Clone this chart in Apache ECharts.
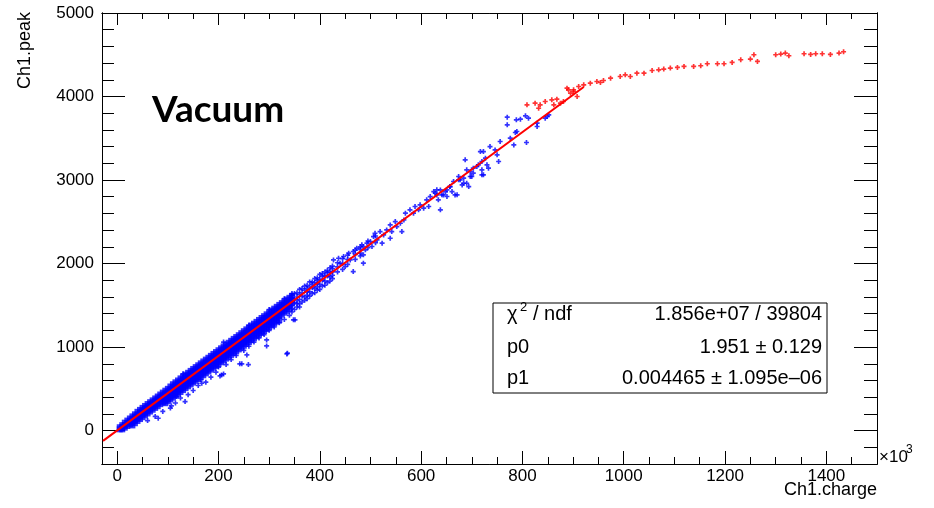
<!DOCTYPE html>
<html>
<head>
<meta charset="utf-8">
<script src="https://cdn.jsdelivr.net/npm/echarts@6/dist/echarts.min.js"></script>
<style>
html,body{margin:0;padding:0;background:#fff;}
#chart{width:934px;height:508px;}
</style>
</head>
<body>
<div id="chart"></div>
<script>
// ---- axis ticks / labels ----
var xMajorTicks = [0, 200, 400, 600, 800, 1000, 1200, 1400];
var xMinorTicks = [0,50,100,150,200,250,300,350,400,450,500,550,600,650,700,750,800,850,900,950,1000,1050,1100,1150,1200,1250,1300,1350,1400,1450,1500];
var yMajorTicks = [0, 1000, 2000, 3000, 4000, 5000];

// ---- fit line ----
var fitLine = [[-28, -123], [921, 4114]];

// ---- dense core of the blue band ----
var blueDense = [
[5,40],[5,15],
[10,65],[10,40],[10,15],
[15,95],[15,65],[15,35],
[20,120],[20,88],[20,55],
[25,145],[25,110],[25,75],
[30,170],[30,133],[30,95],[30,62],
[35,195],[35,160],[35,122],[35,88],
[40,225],[40,190],[40,152],[40,115],
[45,248],[45,212],[45,175],[45,138],
[50,272],[50,235],[50,198],[50,160],
[55,295],[55,258],[55,220],[55,182],
[60,318],[60,280],[60,242],[60,205],
[65,340],[65,302],[65,265],[65,228],
[70,362],[70,325],[70,288],[70,250],
[75,385],[75,348],[75,310],[75,272],
[80,408],[80,370],[80,332],[80,292],
[85,432],[85,392],[85,355],[85,316],
[90,455],[90,415],[90,378],[90,338],
[95,478],[95,438],[95,400],[95,360],[95,328],
[100,500],[100,462],[100,422],[100,382],[100,350],
[105,528],[105,488],[105,448],[105,408],[105,372],
[110,555],[110,515],[110,475],[110,435],[110,395],
[115,578],[115,538],[115,498],[115,458],[115,418],
[120,600],[120,560],[120,520],[120,480],[120,440],
[125,625],[125,582],[125,542],[125,502],[125,462],
[130,648],[130,605],[130,565],[130,525],[130,485],
[135,670],[135,628],[135,588],[135,548],[135,508],
[140,692],[140,652],[140,612],[140,572],[140,530],
[145,715],[145,674],[145,634],[145,594],[145,552],
[150,738],[150,696],[150,656],[150,615],[150,575],
[155,760],[155,720],[155,678],[155,638],[155,596],
[160,782],[160,742],[160,700],[160,660],[160,618],
[165,805],[165,764],[165,722],[165,682],[165,640],
[170,828],[170,786],[170,745],[170,705],[170,662],
[175,850],[175,808],[175,768],[175,726],[175,685],
[180,872],[180,830],[180,790],[180,748],[180,708],
[185,895],[185,852],[185,812],[185,770],[185,730],
[190,918],[190,876],[190,835],[190,792],[190,752],
[195,940],[195,898],[195,856],[195,815],[195,774],
[200,962],[200,920],[200,878],[200,838],[200,795],
[205,985],[205,943],[205,901],[205,860],[205,818],
[210,1008],[210,966],[210,924],[210,882],[210,840],
[215,1030],[215,988],[215,946],[215,904],[215,862],
[220,1052],[220,1010],[220,968],[220,925],[220,884],
[225,1075],[225,1033],[225,991],[225,948],[225,906],
[230,1098],[230,1056],[230,1014],[230,970],[230,928],
[235,1120],[235,1078],[235,1036],[235,992],[235,950],
[240,1142],[240,1100],[240,1058],[240,1015],[240,972],
[245,1166],[245,1123],[245,1081],[245,1038],[245,994],
[250,1190],[250,1146],[250,1104],[250,1060],[250,1016],
[255,1212],[255,1168],[255,1126],[255,1082],[255,1038],
[260,1235],[260,1190],[260,1148],[260,1105],[260,1060],
[265,1258],[265,1213],[265,1170],[265,1128],[265,1082],
[270,1280],[270,1236],[270,1192],[270,1150],[270,1105],
[275,1302],[275,1258],[275,1215],[275,1172],[275,1128],
[280,1325],[280,1280],[280,1238],[280,1195],[280,1150],
[285,1348],[285,1303],[285,1260],[285,1216],[285,1170],
[290,1370],[290,1326],[290,1282],[290,1238],[290,1192],
[295,1392],[295,1348],[295,1304],[295,1260],[295,1215],
[300,1415],[300,1370],[300,1326],[300,1282],[300,1238],
[305,1438],[305,1393],[305,1349],[305,1305],[305,1260],
[310,1460],[310,1415],[310,1372],[310,1328],[310,1282],
[315,1482],[315,1438],[315,1394],[315,1349],[315,1304],
[320,1505],[320,1460],[320,1415],[320,1370],[320,1325],
[325,1526],[325,1481],[325,1436],[325,1390],
[330,1548],[330,1502],[330,1458],[330,1412],
[335,1570],[335,1524],[335,1480],[335,1434],
[340,1590],[340,1545],[340,1500],[340,1455],
[345,1612],[345,1566],[345,1522]
];

// ---- individual blue points ----
var blueSparse = [
// tail below / above the dense band
[60,120],[75,170],[81,148],[90,230],[105,270],[107,296],[115,330],[117,407],[125,390],[134,347],[140,430],
[150,480],[160,540],[165,610],[167,567],[175,580],[185,640],[195,700],[200,760],[203,655],[206,667],[210,679],
[215,790],[225,850],[235,900],[242,799],[246,799],[250,960],[256,906],[259,790],[260,1010],[270,1060],
[280,1110],[290,1150],[295,1086],[295,1014],[300,1200],[310,1240],[320,1290],[330,1330],[335,918],
[336,927],[340,1380],[348,1326],[351,1326],
[130,680],[210,1060],[260,1260],[300,1450],[330,1580],[345,1640],
// 345 - 520
[345,1620],[345,1580],[345,1500],[345,1460],[345,1420],
[350,1640],[350,1530],[350,1450],
[355,1650],[355,1560],[355,1480],[355,1600],[355,1520],
[360,1690],[360,1630],[360,1570],[360,1520],[360,1480],
[365,1700],[365,1610],[365,1540],[365,1650],
[370,1730],[370,1680],[370,1600],[370,1560],
[375,1740],[375,1660],[375,1580],[375,1700],[375,1620],
[380,1780],[380,1720],[380,1660],[380,1610],
[385,1780],[385,1710],[385,1640],[385,1750],
[390,1820],[390,1770],[390,1700],[390,1650],
[395,1830],[395,1760],[395,1680],[395,1800],[395,1720],
[400,1870],[400,1810],[400,1750],[400,1690],
[405,1880],[405,1800],[405,1730],[405,1850],
[410,1900],[410,1850],[410,1790],[410,1740],
[415,1920],[415,1850],[415,1770],[415,1890],
[420,1950],[420,1900],[420,1840],[420,1790],
[425,1970],[425,1900],[425,1820],[425,1940],[425,1860],
[435,2010],[435,1960],[435,1900],[445,2060],[445,2000],[445,1930],
[455,2100],[455,2050],[455,1990],[470,2160],[470,2110],[470,2050],
[480,2200],[480,2170],[480,2090],[495,2270],[495,2190],[510,2330],[510,2250],
// 430 - 740
[427,2044],[437,2064],[447,2084],[457,2124],[440,2004],[460,2044],[450,1964],[466,2144],[466,1904],
[473,2184],[483,2224],[480,2124],[486,2104],[486,2005],[486,2204],[493,2244],[500,2264],[490,2164],
[506,2323],[503,2204],[513,2284],[519,2383],[523,2244],[526,2343],[509,2363],[532,2403],[539,2463],
[539,2303],[542,2383],[552,2443],[549,2503],[559,2483],[566,2523],[562,2383],[569,2603],[578,2643],
[585,2603],[595,2643],[588,2683],[598,2703],[605,2663],[615,2683],[611,2763],[618,2802],[628,2843],
[631,2883],[634,2763],[638,2643],[641,2823],[648,2862],[651,2803],[657,2922],[661,2862],[671,2823],
[674,3002],[681,2942],[684,3022],[690,2962],[697,3042],[703,3082],[710,3162],[720,3122],[723,3062],
[730,3182],
// 620 - 860
[625,2862],[631,2822],[638,2882],[644,2822],[651,2882],[657,2922],[664,2982],[667,2822],[674,3042],
[677,3002],[684,2962],[687,3242],[690,3122],[694,2922],[697,3102],[700,3042],[703,3142],[713,3182],
[717,3341],[720,3222],[720,3062],[723,3341],[727,3262],[733,3142],[736,3401],[746,3361],[750,3302],
[753,3222],[756,3461],[770,3753],[770,3661],[776,3501],[783,3421],[786,3569],[788,3721],[789,3581],
[796,3729],[806,3769],[808,3449],[812,3741],[829,3681],[829,3641],[845,3741],[849,3761],[852,3781]
];

// ---- red points (saturation region) ----
var redPoints = [
[809,3900],[825,3920],[832,3860],[835,3900],[845,3940],[858,3960],[862,3900],[868,3968],[875,3920],
[881,3940],[888,4100],[891,4080],[895,4040],[901,4060],[901,4080],[908,4000],[911,4120],[921,4140],
[934,4160],[947,4180],[954,4168],[960,4192],[974,4220],[993,4240],[1003,4260],[1013,4240],[1026,4280],
[1040,4280],[1056,4312],[1069,4320],[1079,4328],[1092,4340],[1106,4348],[1119,4360],[1138,4360],
[1152,4368],[1165,4392],[1185,4392],[1198,4392],[1214,4408],[1231,4440],[1250,4448],[1257,4500],
[1264,4420],[1300,4500],[1310,4508],[1319,4520],[1326,4488],[1356,4512],[1369,4504],[1379,4512],
[1392,4512],[1408,4504],[1425,4520],[1434,4536]
];

// ---- stats box text ----
var statNames = ['p0', 'p1'];
var statValues = ['1.856e+07 / 39804', '1.951 \u00b1 0.129', '0.004465 \u00b1 1.095e\u201306'];

var FONT = 'Liberation Sans, Arial, Helvetica, sans-serif';
var plus = 'path://M1,0H2V1H3V2H2V3H1V2H0V1H1Z';

function xAx(pos, len, ticks, labels) {
  return {
    type: 'value', min: -30, max: 1500, position: pos,
    axisLine: { show: true, onZero: false, lineStyle: { color: '#000', width: 1 } },
    axisTick: { show: true, inside: true, length: len, customValues: ticks, lineStyle: { color: '#000', width: 1 } },
    axisLabel: labels ? { show: true, customValues: ticks, margin: 4, fontSize: 17, color: '#000', fontFamily: FONT,
      formatter: function (v) { return String(v); } } : { show: false },
    splitLine: { show: false }
  };
}
function yAx(pos, len, ticks, labels, interval) {
  var ax = {
    type: 'value', min: -400, max: 5000, position: pos,
    axisLine: { show: true, onZero: false, lineStyle: { color: '#000', width: 1 } },
    axisTick: { show: true, inside: true, length: len, lineStyle: { color: '#000', width: 1 } },
    axisLabel: labels ? { show: true, customValues: ticks, margin: 8, fontSize: 17, color: '#000', fontFamily: FONT,
      formatter: function (v) { return String(v); } } : { show: false },
    splitLine: { show: false }
  };
  if (ticks) ax.axisTick.customValues = ticks;
  if (interval) ax.interval = interval;
  return ax;
}

var chart = echarts.init(document.getElementById('chart'), null, { renderer: 'canvas' });
chart.setOption({
  animation: false,
  backgroundColor: '#fff',
  grid: { left: 102, right: 57, top: 13, bottom: 44, containLabel: false },
  xAxis: [
    xAx('bottom', 13, xMajorTicks, true),
    xAx('bottom', 7, xMinorTicks, false),
    xAx('top', 12, xMajorTicks, false),
    xAx('top', 6, xMinorTicks, false)
  ],
  yAxis: [
    yAx('left', 23, yMajorTicks, true),
    yAx('left', 12, null, false, 200),
    yAx('right', 23, yMajorTicks, false),
    yAx('right', 13, null, false, 200)
  ],
  series: [
    { type: 'scatter', name: 'band', data: blueDense, symbol: 'rect', symbolSize: 6,
      itemStyle: { color: '#0000ff' }, silent: true, z: 2 },
    { type: 'scatter', name: 'points', data: blueSparse, symbol: plus, symbolSize: 5,
      itemStyle: { color: '#0000ff' }, silent: true, z: 3 },
    { type: 'scatter', name: 'red', data: redPoints, symbol: plus, symbolSize: 5,
      itemStyle: { color: '#ff0000' }, silent: true, z: 3 },
    { type: 'line', name: 'fit', data: fitLine, symbol: 'none', clip: true,
      lineStyle: { color: '#ff0000', width: 2 }, silent: true, z: 5 }
  ],
  graphic: [
    { type: 'text', z: 10, style: { text: 'Vacuum', x: 152, y: 110, font: 'bold 37px Lato, sans-serif', fill: '#000', align: 'left', verticalAlign: 'middle' } },
    { type: 'text', z: 10, x: 25, y: 12, rotation: Math.PI / 2,
      style: { text: 'Ch1.peak', font: '18px ' + FONT, fill: '#000', align: 'right', verticalAlign: 'middle' } },
    { type: 'text', z: 10, style: { text: 'Ch1.charge', x: 877, y: 490, font: '18px ' + FONT, fill: '#000', align: 'right', verticalAlign: 'middle' } },
    { type: 'text', z: 10, style: { text: '\u00d710', x: 879, y: 457, font: '17px ' + FONT, fill: '#000', align: 'left', verticalAlign: 'middle' } },
    { type: 'text', z: 10, style: { text: '3', x: 906, y: 450, font: '12px ' + FONT, fill: '#000', align: 'left', verticalAlign: 'middle' } },
    { type: 'rect', z: 10, shape: { x: 493, y: 303, width: 334, height: 90 }, style: { fill: '#fff', stroke: '#000', lineWidth: 1 } },
    { type: 'text', z: 11, style: { text: '\u03c7', x: 507, y: 314, font: '20px ' + FONT, fill: '#000', align: 'left', verticalAlign: 'middle' } },
    { type: 'text', z: 11, style: { text: '2', x: 520, y: 307, font: '13px ' + FONT, fill: '#000', align: 'left', verticalAlign: 'middle' } },
    { type: 'text', z: 11, style: { text: '/ ndf', x: 533, y: 314, font: '20px ' + FONT, fill: '#000', align: 'left', verticalAlign: 'middle' } },
    { type: 'text', z: 11, style: { text: statNames[0], x: 507, y: 347, font: '20px ' + FONT, fill: '#000', align: 'left', verticalAlign: 'middle' } },
    { type: 'text', z: 11, style: { text: statNames[1], x: 507, y: 378, font: '20px ' + FONT, fill: '#000', align: 'left', verticalAlign: 'middle' } },
    { type: 'text', z: 11, style: { text: statValues[0], x: 822, y: 314, font: '20px ' + FONT, fill: '#000', align: 'right', verticalAlign: 'middle' } },
    { type: 'text', z: 11, style: { text: statValues[1], x: 822, y: 347, font: '20px ' + FONT, fill: '#000', align: 'right', verticalAlign: 'middle' } },
    { type: 'text', z: 11, style: { text: statValues[2], x: 822, y: 378, font: '20px ' + FONT, fill: '#000', align: 'right', verticalAlign: 'middle' } }
  ]
});
</script>
</body>
</html>
